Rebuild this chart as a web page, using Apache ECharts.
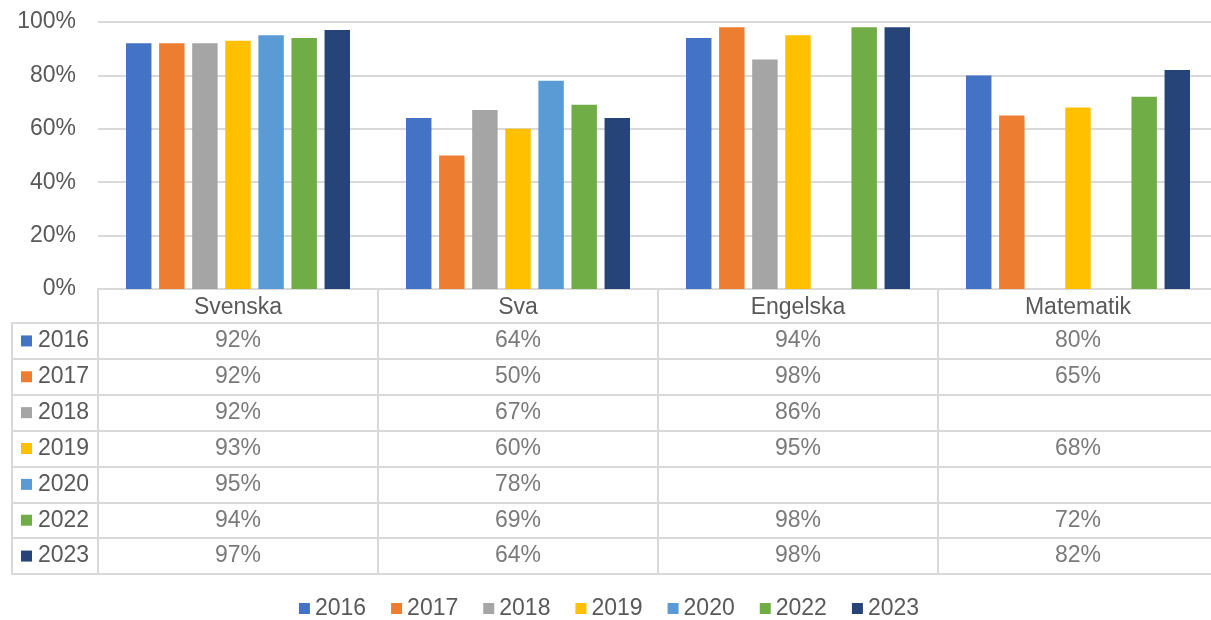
<!DOCTYPE html>
<html>
<head>
<meta charset="utf-8">
<script src="https://cdn.jsdelivr.net/npm/echarts@6/dist/echarts.min.js"></script>
<style>
  html, body { margin: 0; padding: 0; background: #fff; overflow: hidden; }
  /* the plot runs a few pixels past the right edge of the window */
  #chart { width: 1218px; height: 620px; }
</style>
</head>
<body>
<div id="chart"></div>
<script>
// Share of pupils with passing grades, by subject and year
const subjects = ['Svenska', 'Sva', 'Engelska', 'Matematik'];
const years = ['2016', '2017', '2018', '2019', '2020', '2022', '2023'];
const v2016 = [92, 64, 94, 80];
const v2017 = [92, 50, 98, 65];
const v2018 = [92, 67, 86, null];
const v2019 = [93, 60, 95, 68];
const v2020 = [95, 78, null, null];
const v2022 = [94, 69, 98, 72];
const v2023 = [97, 64, 98, 82];
const yTicks = [0, 20, 40, 60, 80, 100];

const valuesByYear = [v2016, v2017, v2018, v2019, v2020, v2022, v2023];
const colors = ['#4472C4', '#ED7D31', '#A5A5A5', '#FFC000', '#5B9BD5', '#70AD47', '#264478'];

const FONT = '"Liberation Sans", Arial, sans-serif';
const TEXT = '#595959';
const LINE = '#D9D9D9';
const FS = 23;

// Bars: one series per year
const barSeries = years.map((y, i) => ({
  name: y,
  type: 'bar',
  xAxisIndex: 0,
  yAxisIndex: 0,
  data: valuesByYear[i],
  itemStyle: { color: colors[i] },
  barGap: '30%',
  barCategoryGap: '20%'
}));

// Data table cells: [subject, year, value]
const cells = [];
years.forEach((y, i) => {
  subjects.forEach((s, j) => {
    const v = valuesByYear[i][j];
    if (v !== null && v !== undefined) cells.push([s, y, v]);
  });
});

// Row header rich styles (colour key + year)
const rowRich = { t: { fontSize: FS, fontFamily: FONT, color: TEXT, padding: [0, 0, 0, 6] } };
colors.forEach((c, i) => {
  rowRich['k' + i] = { width: 11, height: 11, backgroundColor: c };
});

const chart = echarts.init(document.getElementById('chart'), null, { renderer: 'canvas' });
chart.setOption({
  animation: false,
  backgroundColor: '#fff',
  textStyle: { fontFamily: FONT },
  legend: {
    data: years,
    top: 592,
    left: 'center',
    icon: 'rect',
    itemWidth: 11,
    itemHeight: 11,
    itemGap: 25,
    textStyle: { fontSize: FS, color: TEXT, fontFamily: FONT }
  },
  grid: [
    { left: 98, right: 0, top: 22, height: 267 },
    { left: 98, right: 0, top: 323, height: 251 }
  ],
  xAxis: [
    {
      gridIndex: 0,
      type: 'category',
      data: subjects,
      axisLine: { show: true, lineStyle: { color: LINE, width: 2 } },
      axisTick: { show: true, interval: 0, length: 34, lineStyle: { color: LINE, width: 2 } },
      axisLabel: { interval: 0, fontSize: FS, color: TEXT, fontFamily: FONT, margin: 7 },
      splitLine: { show: false }
    },
    {
      gridIndex: 1,
      type: 'category',
      data: subjects,
      axisLine: { show: false },
      axisTick: { show: false },
      axisLabel: { show: false },
      splitLine: { show: true, interval: 0, lineStyle: { color: LINE, width: 2 } }
    }
  ],
  yAxis: [
    {
      gridIndex: 0,
      type: 'value',
      min: yTicks[0],
      max: yTicks[yTicks.length - 1],
      interval: 20,
      axisLine: { show: false },
      axisTick: { show: false },
      axisLabel: { formatter: '{value}%', fontSize: FS, color: TEXT, fontFamily: FONT, margin: 22 },
      splitLine: { show: true, lineStyle: { color: LINE, width: 2 } }
    },
    {
      gridIndex: 1,
      type: 'category',
      data: years,
      inverse: true,
      offset: 86,
      axisLine: { show: true, lineStyle: { color: LINE, width: 2 } },
      axisTick: { show: true, inside: true, interval: 0, length: 86, lineStyle: { color: LINE, width: 2 } },
      axisLabel: {
        inside: true,
        interval: 0,
        margin: 9,
        formatter: (val, idx) => '{k' + idx + '|}{t|' + val + '}',
        rich: rowRich
      },
      splitLine: { show: true, interval: 0, lineStyle: { color: LINE, width: 2 } }
    }
  ],
  series: barSeries.concat([{
    type: 'scatter',
    xAxisIndex: 1,
    yAxisIndex: 1,
    silent: true,
    symbolSize: 1,
    itemStyle: { color: 'rgba(0,0,0,0)' },
    data: cells,
    label: {
      show: true,
      position: 'inside',
      formatter: p => p.value[2] + '%',
      fontSize: FS,
      color: TEXT,
      fontFamily: FONT
    }
  }])
});
</script>
</body>
</html>
